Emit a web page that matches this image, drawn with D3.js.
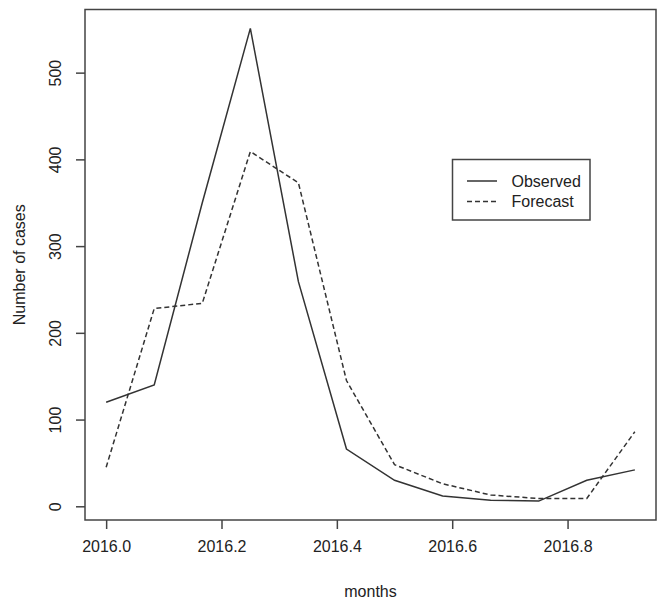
<!DOCTYPE html>
<html>
<head>
<meta charset="utf-8">
<script src="https://cdn.jsdelivr.net/npm/d3@7"></script>
<style>
  html, body { margin: 0; padding: 0; background: #fff; }
  svg text { font-family: "Liberation Sans", Arial, sans-serif; fill: #222; }
</style>
</head>
<body>
<svg id="chart" width="666" height="603"></svg>
<script>
// Data (monthly, 2016)
const months = d3.range(12).map(i => 2016 + i / 12);
const observed = [120, 140, 350, 551, 259, 66, 30, 12, 7, 6, 30, 42];
const forecast = [45, 228, 234, 409, 373, 145, 48, 26, 13, 9, 9, 86];
const xTicks = [2016.0, 2016.2, 2016.4, 2016.6, 2016.8];
const yTicks = [0, 100, 200, 300, 400, 500];
const seriesNames = ["Observed", "Forecast"];

const svg = d3.select("#chart");
const pLeft = 85, pRight = 656, pTop = 9.5, pBottom = 520;

// R-style 4% range extension
const xr = d3.extent(months), xp = (xr[1] - xr[0]) * 0.04;
const allY = observed.concat(forecast);
const yr = d3.extent(allY), yp = (yr[1] - yr[0]) * 0.04;

const x = d3.scaleLinear().domain([xr[0] - xp, xr[1] + xp]).range([pLeft, pRight]);
const y = d3.scaleLinear().domain([yr[0] - yp, yr[1] + yp]).range([pBottom, pTop]);

const axisColor = "#444";

// Lines
const line = d3.line().x((d, i) => x(months[i])).y(d => y(d));
svg.append("path").datum(observed).attr("d", line)
  .attr("fill", "none").attr("stroke", "#333").attr("stroke-width", 1.5);
svg.append("path").datum(forecast).attr("d", line)
  .attr("fill", "none").attr("stroke", "#333").attr("stroke-width", 1.5)
  .attr("stroke-dasharray", "5,3");

// Box
svg.append("rect").attr("x", pLeft).attr("y", pTop)
  .attr("width", pRight - pLeft).attr("height", pBottom - pTop)
  .attr("fill", "none").attr("stroke", axisColor).attr("stroke-width", 1.5);

// X axis
const xAxis = d3.axisBottom(x).tickValues(xTicks).tickFormat(d3.format(".1f"))
  .tickSize(9).tickPadding(12);
const gx = svg.append("g").attr("transform", `translate(0,${pBottom})`).call(xAxis);
gx.select(".domain").attr("stroke-opacity", 0);
gx.selectAll(".tick line").attr("stroke", axisColor).attr("stroke-width", 1.5);
gx.selectAll(".tick text").attr("font-size", 16).attr("fill", "#222")
  .attr("font-family", "Liberation Sans, Arial, sans-serif");

// Y axis
const yAxis = d3.axisLeft(y).tickValues(yTicks).tickSize(9).tickPadding(0);
const gy = svg.append("g").attr("transform", `translate(${pLeft},0)`).call(yAxis);
gy.select(".domain").attr("stroke-opacity", 0);
gy.selectAll(".tick line").attr("stroke", axisColor).attr("stroke-width", 1.5);
gy.selectAll(".tick text").remove();
gy.selectAll(".tick").append("text")
  .attr("transform", "translate(-30,0) rotate(-90)")
  .attr("text-anchor", "middle").attr("dy", "0.35em")
  .attr("font-size", 16).attr("fill", "#222")
  .attr("font-family", "Liberation Sans, Arial, sans-serif")
  .text(d => d);

// Axis titles
svg.append("text").attr("x", (pLeft + pRight) / 2).attr("y", 591)
  .attr("text-anchor", "middle").attr("dy", "0.35em").attr("font-size", 16)
  .text("months");
svg.append("text")
  .attr("transform", `translate(19,${(pTop + pBottom) / 2}) rotate(-90)`)
  .attr("text-anchor", "middle").attr("dy", "0.35em").attr("font-size", 16)
  .text("Number of cases");

// Legend
const lg = svg.append("g");
lg.append("rect").attr("x", 452.5).attr("y", 159.5).attr("width", 137.5).attr("height", 60.5)
  .attr("fill", "#fff").attr("stroke", axisColor).attr("stroke-width", 1.5);
seriesNames.forEach((name, i) => {
  const ly = 181 + i * 20.5;
  lg.append("line").attr("x1", 467).attr("x2", 497).attr("y1", ly).attr("y2", ly)
    .attr("stroke", "#333").attr("stroke-width", 1.5)
    .attr("stroke-dasharray", i === 1 ? "5,3" : null);
  lg.append("text").attr("x", 511.5).attr("y", ly).attr("dy", "0.35em")
    .attr("font-size", 16).text(name);
});
</script>
</body>
</html>
